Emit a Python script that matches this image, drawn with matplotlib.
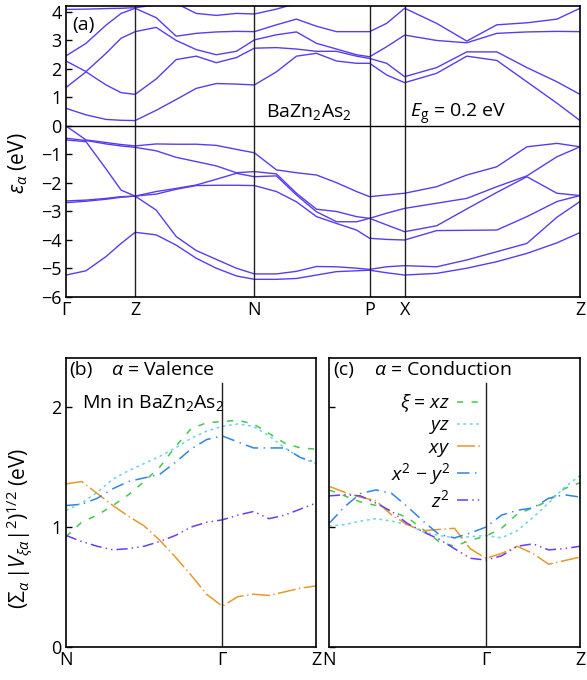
import matplotlib
matplotlib.use("Agg")
import matplotlib.pyplot as plt

plt.rcParams['font.family'] = ['Open Sans', 'DejaVu Sans']
plt.rcParams['mathtext.fontset'] = 'custom'
plt.rcParams['mathtext.rm'] = 'Open Sans'
plt.rcParams['mathtext.it'] = 'Open Sans:italic'
plt.rcParams['lines.scale_dashes'] = False
plt.rcParams['font.size'] = 12.5

# ---- panel (a): band structure along G-Z-N-P-X-Z ----
kpath = [0, 20, 40, 55, 69, 90, 110, 130, 150, 170, 188, 210, 230, 250, 270,
         290, 303, 320, 338, 370, 400, 430, 460, 490, 513]
sym_k = [0, 69, 188, 303, 338, 513]
sym_labels = ['Γ', 'Z', 'N', 'P', 'X', 'Z']

v1 = [0, -0.49, -0.58, -0.65, -0.70, -0.63, -0.64, -0.64, -0.68, -0.82, -0.94, -1.54, -1.64,
      -1.72, -1.99, -2.30, -2.48, -2.42, -2.36, -2.13, -1.72, -1.43, -0.73, -0.61, -0.73]
v2 = [-0.43, -0.51, -0.63, -0.70, -0.75, -0.87, -1.10, -1.25, -1.40, -1.64, -1.60, -1.68, -2.36,
      -2.92, -3.00, -3.18, -3.24, -3.06, -2.89, -2.71, -2.54, -2.13, -1.75, -1.08, -0.73]
v3 = [-0.49, -0.55, -1.51, -2.25, -2.46, -2.30, -2.19, -2.07, -1.87, -1.66, -1.78, -1.75, -2.42,
      -3.01, -3.36, -3.36, -3.24, -3.47, -3.71, -3.50, -2.91, -2.33, -1.78, -2.36, -2.44]
v4 = [-2.63, -2.60, -2.54, -2.48, -2.46, -2.39, -2.22, -2.09, -2.08, -2.08, -2.09, -2.30, -2.66,
      -3.18, -3.42, -3.65, -3.94, -3.98, -4.00, -3.67, -3.66, -3.65, -3.18, -2.65, -2.44]
v5 = [-2.69, -2.64, -2.57, -2.50, -2.46, -2.95, -3.88, -4.37, -4.68, -4.99, -5.19, -5.19, -5.10,
      -4.93, -4.94, -4.99, -5.03, -4.94, -4.90, -4.94, -4.70, -4.41, -4.12, -3.20, -2.65]
v6 = [-5.23, -5.08, -4.58, -4.12, -3.73, -3.82, -4.18, -4.64, -4.99, -5.26, -5.38, -5.38, -5.35,
      -5.23, -5.11, -5.08, -5.06, -5.15, -5.23, -5.17, -4.99, -4.76, -4.47, -4.10, -3.74]
c1 = [0.62, 0.39, 0.23, 0.20, 0.19, 0.55, 0.93, 1.32, 1.49, 1.47, 1.44, 1.90, 2.45, 2.55, 2.28,
      2.20, 2.20, 1.79, 1.52, 1.85, 2.45, 2.30, 1.55, 0.80, 0.19]
c2 = [1.35, 1.90, 1.44, 1.17, 1.11, 1.65, 2.33, 2.45, 2.22, 2.40, 2.73, 2.75, 2.70, 2.62, 2.62,
      2.45, 2.37, 2.20, 1.73, 2.05, 2.60, 2.60, 2.05, 1.55, 1.11]
c3 = [2.28, 1.91, 2.55, 3.08, 3.31, 3.46, 3.00, 2.68, 2.50, 2.62, 3.02, 3.20, 3.30, 2.90, 2.70,
      2.50, 2.43, 2.78, 3.19, 3.00, 2.92, 3.25, 3.30, 3.32, 3.31]
c4 = [2.46, 2.90, 3.54, 3.95, 4.13, 3.80, 3.15, 3.25, 3.30, 3.32, 3.31, 3.55, 3.75, 3.50, 3.31,
      3.31, 3.31, 3.60, 4.13, 3.60, 2.98, 3.55, 3.62, 3.75, 4.13]
c5 = [4.09, 4.10, 4.12, 4.13, 4.15, 4.25, 4.30, 3.95, 3.88, 3.95, 3.93, 4.10, 4.30, 4.30, 4.30,
      4.30, 4.30, 4.30, 4.30, 4.30, 4.30, 4.30, 4.30, 4.30, 4.30]
bands = [v1, v2, v3, v4, v5, v6, c1, c2, c3, c4, c5]

# ---- panels (b), (c): hybridization along N-G-Z ----
qpath = [0, 0.1, 0.2, 0.3, 0.4, 0.5, 0.6, 0.7, 0.8, 0.9, 1.0, 1.1, 1.2, 1.3, 1.4, 1.5, 1.6]
q_labels = ['N', 'Γ', 'Z']
orbitals = [r'$\xi$ = $xz$', r'$yz$', r'$xy$', r'$x^2$ − $y^2$', r'$z^2$']

val_xz = [0.92, 1.04, 1.10, 1.18, 1.27, 1.38, 1.50, 1.67, 1.82, 1.87, 1.88, 1.89, 1.86, 1.78, 1.70, 1.66, 1.65]
val_yz = [1.14, 1.20, 1.29, 1.40, 1.47, 1.53, 1.59, 1.66, 1.74, 1.80, 1.84, 1.86, 1.84, 1.76, 1.66, 1.58, 1.53]
val_xy = [1.36, 1.38, 1.28, 1.18, 1.09, 1.01, 0.89, 0.75, 0.60, 0.44, 0.34, 0.42, 0.44, 0.43, 0.46, 0.49, 0.51]
val_x2y2 = [1.18, 1.19, 1.24, 1.32, 1.38, 1.41, 1.44, 1.54, 1.65, 1.73, 1.76, 1.71, 1.66, 1.66, 1.66, 1.58, 1.54]
val_z2 = [0.93, 0.88, 0.84, 0.81, 0.82, 0.84, 0.88, 0.93, 1.00, 1.04, 1.06, 1.10, 1.13, 1.07, 1.10, 1.15, 1.20]

con_xz = [1.31, 1.26, 1.21, 1.18, 1.13, 1.08, 0.98, 0.88, 0.84, 0.89, 0.925, 0.99, 1.11, 1.16, 1.22, 1.32, 1.37]
con_yz = [1.01, 1.02, 1.05, 1.07, 1.05, 1.02, 0.96, 0.93, 0.91, 0.92, 0.93, 0.91, 0.97, 1.08, 1.20, 1.33, 1.43]
con_xy = [1.34, 1.29, 1.25, 1.22, 1.10, 1.02, 0.97, 0.98, 0.99, 0.82, 0.74, 0.78, 0.84, 0.78, 0.69, 0.72, 0.75]
con_x2y2 = [1.03, 1.17, 1.28, 1.31, 1.28, 1.17, 1.05, 0.94, 0.91, 0.95, 1.00, 1.10, 1.14, 1.16, 1.24, 1.27, 1.25]
con_z2 = [1.26, 1.27, 1.26, 1.20, 1.13, 1.03, 0.96, 0.90, 0.82, 0.74, 0.725, 0.76, 0.84, 0.86, 0.81, 0.82, 0.84]

valence = [val_xz, val_yz, val_xy, val_x2y2, val_z2]
conduction = [con_xz, con_yz, con_xy, con_x2y2, con_z2]

band_color = '#5a3cf0'
colors = ['#44c84c', '#6fd0f2', '#e39a2a', '#2f86e0', '#6a3cf8']
dashes = [(4.5, 6), (2, 2.6), (13, 2.5, 1, 2.5), (9, 4, 1, 4), (8, 3, 1, 3, 1, 3)]
txt = 14
lab = 15

fig = plt.figure(figsize=(5.87, 6.80), dpi=100)
ax = fig.add_axes([66 / 587, 1 - 297 / 680, 514 / 587, 291 / 680])
axb = fig.add_axes([66 / 587, 1 - 647 / 680, 250 / 587, 289 / 680])
axc = fig.add_axes([329 / 587, 1 - 647 / 680, 251 / 587, 289 / 680])

for b in bands:
    ax.plot(kpath, b, color=band_color, lw=1.0)
for k in sym_k[1:-1]:
    ax.axvline(k, color='#222222', lw=1.0)
ax.axhline(0, color='black', lw=1.0)
ax.set_xlim(0, 513)
ax.set_ylim(-6, 4.21)
ax.set_yticks(range(-6, 5))
ax.set_yticklabels(['−6', '−5', '−4', '−3', '−2', '−1', '0', '1', '2', '3', '4'])
ax.set_xticks(sym_k)
ax.set_xticklabels(sym_labels)
ax.tick_params(axis='x', length=0, pad=3, labelsize=13)
ax.tick_params(axis='y', direction='in', length=4, width=1, pad=3, labelsize=13)
ax.set_ylabel(r'$\varepsilon_\alpha$ (eV)', fontsize=lab)
ax.yaxis.set_label_coords(-0.07, 0.46)
ax.text(0.012, 0.965, '(a)', transform=ax.transAxes, ha='left', va='top', fontsize=txt)
ax.text(0.39, 0.67, r'BaZn$_2$As$_2$', transform=ax.transAxes, ha='left', va='top', fontsize=txt)
ax.text(0.67, 0.67, r'$E_\mathrm{g}$ = 0.2 eV', transform=ax.transAxes, ha='left', va='top', fontsize=txt)

for a, data, tag, title in [(axb, valence, '(b)', 'Valence'), (axc, conduction, '(c)', 'Conduction')]:
    for d, col, ds, name in zip(data, colors, dashes, orbitals):
        a.plot(qpath, d, color=col, lw=1.1, dashes=ds, label=name)
    a.plot([1.0, 1.0], [0, 2.2], color='#222222', lw=1.0)
    a.set_xlim(0, 1.6)
    a.set_ylim(0, 2.41)
    a.set_yticks([0, 1, 2])
    a.set_xticks([0, 1.0, 1.6])
    a.set_xticklabels(q_labels)
    a.tick_params(axis='x', length=0, pad=3, labelsize=13)
    a.tick_params(axis='y', direction='in', length=4, width=1, pad=3, labelsize=13)
    a.text(0.015, 0.99, tag, transform=a.transAxes, ha='left', va='top', fontsize=txt)
    a.text(0.18, 0.99, r'$\alpha$ = ' + title, transform=a.transAxes, ha='left', va='top', fontsize=txt)

axb.set_ylabel(r'$(\Sigma_\alpha\,|V_{\xi\alpha}|^2)^{1/2}$ (eV)', fontsize=lab)
axb.yaxis.set_label_coords(-0.125, 0.41)
axb.text(0.065, 0.88, r'Mn in BaZn$_2$As$_2$', transform=axb.transAxes, ha='left', va='top', fontsize=txt)
axc.set_yticklabels([])
axc.legend(loc='upper right', bbox_to_anchor=(0.61, 0.88), frameon=False, markerfirst=False,
           handlelength=1.3, handletextpad=0.35, labelspacing=0.12, borderpad=0, borderaxespad=0,
           fontsize=txt)

for a in [ax, axb, axc]:
    for s in a.spines.values():
        s.set_linewidth(1.2)

fig.savefig('out.png', dpi=100)
